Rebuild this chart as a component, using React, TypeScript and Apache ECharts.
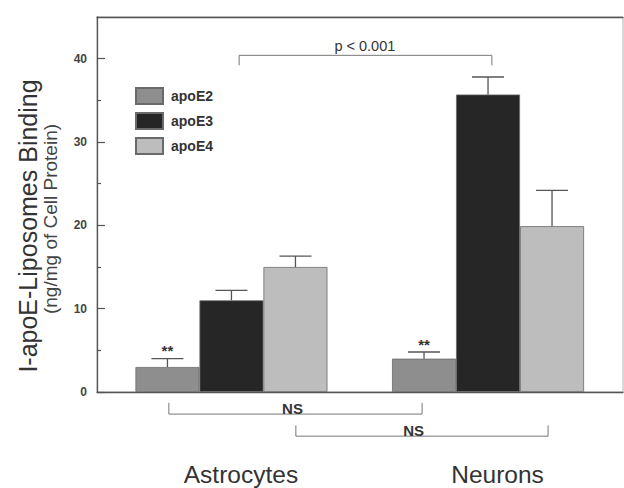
import React, { useEffect, useRef } from "react";
import * as echarts from "echarts";

const categories = ["Astrocytes", "Neurons"];
const seriesNames = ["apoE2", "apoE3", "apoE4"];
const apoE2Values = [3.0, 4.0];
const apoE3Values = [11.0, 35.7];
const apoE4Values = [15.0, 19.9];
const apoE2Errors = [1.0, 0.8];
const apoE3Errors = [1.2, 2.1];
const apoE4Errors = [1.3, 4.3];
const yTickValues = [0, 10, 20, 30, 40];
const yMinorTickValues = [5, 15, 25, 35];
const starSeries = [0, 0];
const starCategories = [0, 1];
const starTexts = ["**", "**"];
const bracketLabels = ["p < 0.001", "NS", "NS"];
const bracketStarts = [0.03, -0.244, 0.251];
const bracketEnds = [1.015, 0.743, 1.234];
const bracketLevels = [40.4, -2.65, -5.3];
const bracketTips = [39.2, -1.3, -4.0];
const bracketLabelX = [0.52, 0.238, 0.71];

const allValues = [apoE2Values, apoE3Values, apoE4Values];
const allErrors = [apoE2Errors, apoE3Errors, apoE4Errors];
const colors = ["#8e8e8e", "#262626", "#bdbdbd"];
const FONT = "'Liberation Sans', Arial, Helvetica, sans-serif";
const BAR_W = 64;
const CAP_W = 32;
const GRID_LEFT = 97;
const GRID_RIGHT = 1;
const W = 624;
const H = 488;
const X_MIN = -0.524;
const X_MAX = 1.526;

export default function App() {
  const ref = useRef<HTMLDivElement>(null);
  useEffect(() => {
    if (!ref.current) return;
    const chart = echarts.init(ref.current, undefined, { renderer: "svg" });
    const gridWidth = W - GRID_LEFT - GRID_RIGHT;

    const barSeries = seriesNames.map((name, s) => ({
      name,
      type: "bar",
      xAxisIndex: 0,
      yAxisIndex: 0,
      barWidth: BAR_W,
      barGap: "0%",
      z: 2,
      itemStyle: { color: colors[s], borderColor: "#6a6a6a", borderWidth: 0.8 },
      data: allValues[s].map((v, c) => [c, v]),
    }));

    const errorData: number[][] = [];
    seriesNames.forEach((_, s) => {
      allValues[s].forEach((v, c) => errorData.push([c, v, allErrors[s][c], s]));
    });

    const errorSeries = {
      name: "errors",
      type: "custom",
      xAxisIndex: 0,
      yAxisIndex: 0,
      clip: false,
      z: 3,
      encode: { x: 0, y: 1 },
      data: errorData,
      renderItem: (params: any, api: any) => {
        const c = api.value(0);
        const v = api.value(1);
        const e = api.value(2);
        const s = api.value(3);
        const p0 = api.coord([c, v]);
        const p1 = api.coord([c, v + e]);
        const cx = p0[0] + (s - 1) * BAR_W;
        const st = { stroke: "#555", lineWidth: 1.3 };
        return {
          type: "group",
          children: [
            { type: "line", shape: { x1: cx, y1: p0[1], x2: cx, y2: p1[1] }, style: st },
            { type: "line", shape: { x1: cx - CAP_W / 2, y1: p1[1], x2: cx + CAP_W / 2, y2: p1[1] }, style: st },
          ],
        };
      },
    };

    const starSeriesObj = {
      name: "stars",
      type: "custom",
      xAxisIndex: 0,
      yAxisIndex: 0,
      clip: false,
      z: 3,
      encode: { x: 0, y: 1 },
      data: starSeries.map((s, i) => {
        const c = starCategories[i];
        return [c, allValues[s][c] + allErrors[s][c], s];
      }),
      renderItem: (params: any, api: any) => {
        const p = api.coord([api.value(0), api.value(1)]);
        const cx = p[0] + (api.value(2) - 1) * BAR_W;
        return {
          type: "text",
          x: cx,
          y: p[1] - 8,
          style: {
            text: starTexts[params.dataIndex],
            fontSize: 15,
            fontWeight: "bold",
            fontFamily: FONT,
            fill: "#333",
            align: "center",
            verticalAlign: "middle",
          },
        };
      },
    };

    const bracketSeries = {
      name: "brackets",
      type: "custom",
      xAxisIndex: 0,
      yAxisIndex: 0,
      clip: false,
      z: 3,
      encode: { x: 0, y: 1 },
      data: bracketLabels.map((_, i) => [
        bracketStarts[i],
        bracketLevels[i],
        bracketEnds[i],
        bracketTips[i],
        bracketLabelX[i],
      ]),
      renderItem: (params: any, api: any) => {
        const i = params.dataIndex;
        const x1 = api.value(0);
        const lvl = api.value(1);
        const x2 = api.value(2);
        const tip = api.value(3);
        const lx = api.value(4);
        const a = api.coord([x1, tip]);
        const b = api.coord([x1, lvl]);
        const c = api.coord([x2, lvl]);
        const d = api.coord([x2, tip]);
        const l = api.coord([lx, lvl]);
        const isTop = i === 0;
        return {
          type: "group",
          children: [
            {
              type: "polyline",
              shape: { points: [a, b, c, d] },
              style: { stroke: "#777", lineWidth: 1, fill: "none" },
            },
            {
              type: "text",
              x: l[0],
              y: isTop ? l[1] - 2 : l[1] - 5.5,
              z2: 5,
              style: {
                text: bracketLabels[i],
                fontSize: isTop ? 14.5 : 15,
                fontWeight: isTop ? "normal" : "bold",
                fontFamily: FONT,
                fill: "#333",
                align: "center",
                verticalAlign: isTop ? "bottom" : "middle",
              },
            },
          ],
        };
      },
    };

    chart.setOption({
      animation: false,
      backgroundColor: "#ffffff",
      grid: {
        left: GRID_LEFT,
        right: GRID_RIGHT,
        top: 17,
        bottom: 96,
        show: true,
        borderColor: "#b0b0b0",
        borderWidth: 1,
        backgroundColor: "transparent",
      },
      legend: {
        data: seriesNames,
        orient: "vertical",
        left: 135,
        top: 87,
        padding: 0,
        itemWidth: 27,
        itemHeight: 16,
        itemGap: 7,
        icon: "rect",
        textStyle: {
          fontSize: 14,
          fontWeight: "bold",
          color: "#333",
          fontFamily: FONT,
          padding: [0, 0, 0, 3],
        },
      },
      xAxis: [
        {
          type: "value",
          min: X_MIN,
          max: X_MAX,
          position: "bottom",
          axisLine: { show: true, onZero: false, lineStyle: { color: "#555", width: 1.3 } },
          axisTick: { show: false },
          splitLine: { show: false },
          axisLabel: {
            customValues: [0, 1],
            formatter: (v: number) => categories[Math.round(v)] ?? "",
            fontSize: 24.5,
            color: "#333",
            fontFamily: FONT,
            margin: 70,
            padding: [0, 0, 0, 19],
          },
        },
        {
          type: "value",
          min: X_MIN,
          max: X_MAX,
          position: "top",
          axisLine: { show: true, onZero: false, lineStyle: { color: "#555", width: 1.3 } },
          axisTick: { show: false },
          axisLabel: { show: false },
          splitLine: { show: false },
        },
      ],
      yAxis: [
        {
          type: "value",
          min: 0,
          max: 45,
          position: "left",
          axisLine: { show: true, onZero: false, lineStyle: { color: "#555", width: 1.3 } },
          axisTick: {
            show: true,
            inside: true,
            length: 8,
            customValues: yTickValues,
            lineStyle: { color: "#555", width: 1.2 },
          },
          axisLabel: {
            customValues: yTickValues,
            margin: 10,
            fontSize: 12,
            fontWeight: "bold",
            color: "#444",
            fontFamily: FONT,
          },
          splitLine: { show: false },
        },
        {
          type: "value",
          min: 0,
          max: 45,
          position: "right",
          offset: -gridWidth,
          axisLine: { show: false, onZero: false },
          axisTick: {
            show: true,
            inside: false,
            length: 4,
            customValues: yMinorTickValues,
            lineStyle: { color: "#555", width: 1.2 },
          },
          axisLabel: { show: false },
          splitLine: { show: false },
        },
      ],
      graphic: [
        {
          type: "text",
          x: 28,
          y: 226,
          rotation: Math.PI / 2,
          style: {
            text: "I-apoE-Liposomes Binding",
            fontSize: 25,
            fontFamily: FONT,
            fill: "#333",
            align: "center",
            verticalAlign: "middle",
          },
        },
        {
          type: "text",
          x: 50,
          y: 219,
          rotation: Math.PI / 2,
          style: {
            text: "(ng/mg of Cell Protein)",
            fontSize: 19,
            fontFamily: FONT,
            fill: "#444",
            align: "center",
            verticalAlign: "middle",
          },
        },
      ],
      series: [...barSeries, errorSeries, starSeriesObj, bracketSeries],
    });
    return () => chart.dispose();
  }, []);
  return (
    <div
      ref={ref}
      style={{ position: "fixed", left: 0, top: 0, width: W, height: H, background: "#fff" }}
    />
  );
}
